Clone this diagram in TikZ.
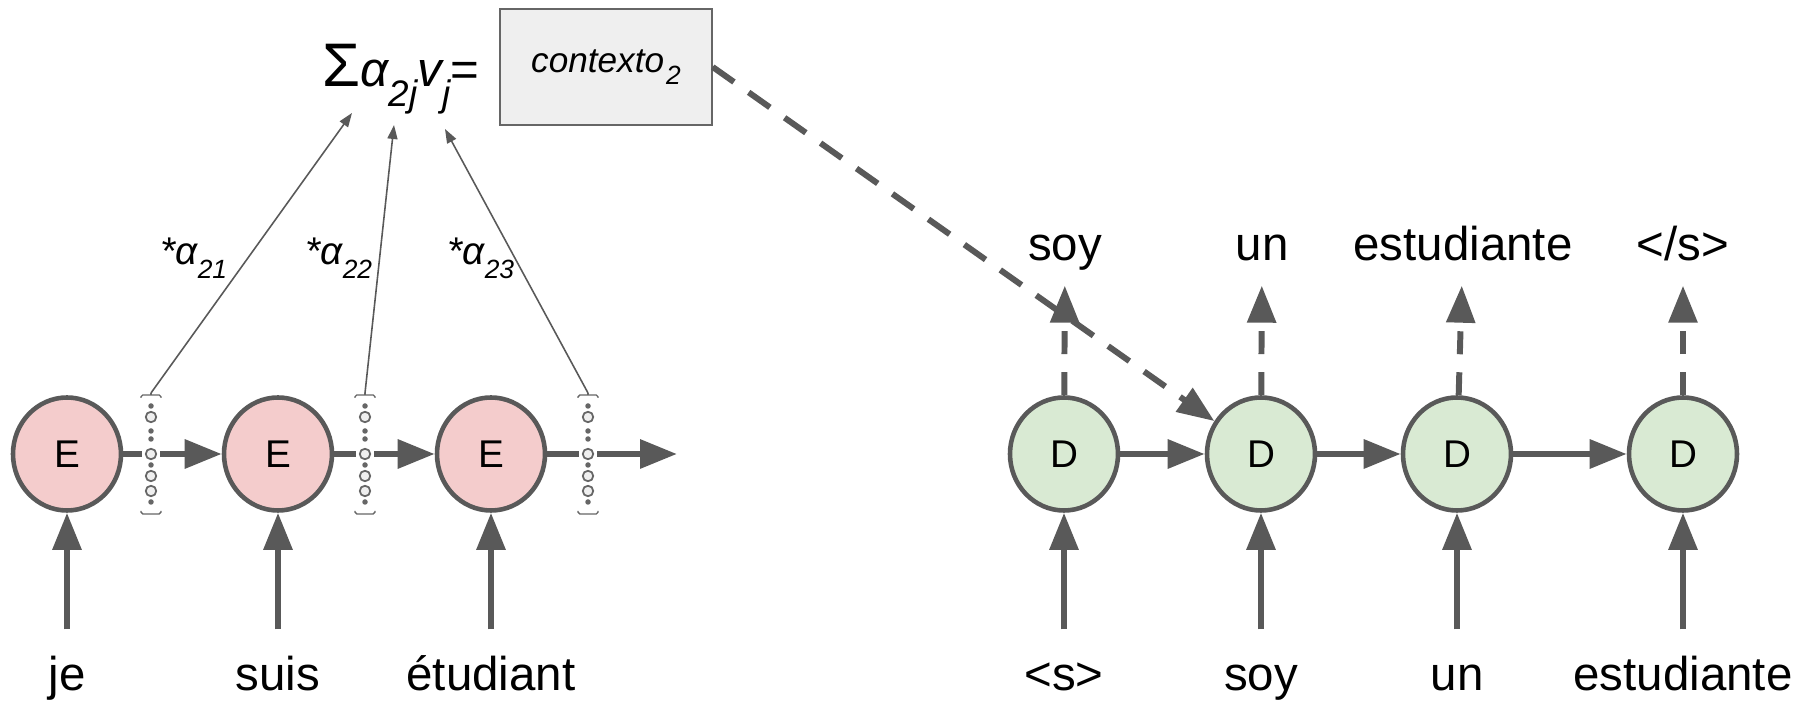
\documentclass[tikz,border=0pt]{standalone}
\usepackage{fontspec}
\setmainfont{Liberation Sans}
\usetikzlibrary{arrows.meta,positioning,calc,shapes.geometric}

\definecolor{edgegray}{HTML}{595959}
\definecolor{encfill}{HTML}{F4CCCC}
\definecolor{decfill}{HTML}{D9EAD3}
\definecolor{boxfill}{HTML}{EFEFEF}
\definecolor{vecgray}{HTML}{666666}

\newcommand{\lowsub}[3]{\raisebox{-#1}{\fontsize{#2}{#2}\selectfont #3}}

\begin{document}
\begin{tikzpicture}[
			cell/.style={ellipse, draw=edgegray, line width=1.3pt, minimum width=1.08cm, minimum height=1.13cm, inner sep=0pt, font=\fontsize{11}{13}\selectfont},
			enc/.style={cell, fill=encfill},
			dec/.style={cell, fill=decfill},
			word/.style={font=\fontsize{13.5}{16}\selectfont, text height=0.47cm, text depth=0.1cm, inner xsep=1pt, inner ysep=0.14cm, anchor=base},
			edge/.style={draw=edgegray, line width=1.8pt},
			arr/.style={edge, -{Triangle[length=3.7mm,width=2.8mm]}},
			inarr/.style={arr, line width=1.7pt},
			outarr/.style={inarr, dash pattern=on 2.3mm off 1.8mm},
			ctxarr/.style={inarr, dash pattern=on 2.6mm off 1.8mm},
			vcirc/.style={circle, draw=vecgray, fill=boxfill, line width=0.5pt, minimum size=0.105cm, inner sep=0pt, outer sep=0.04cm},
			vdot/.style={circle, fill=vecgray, minimum size=0.055cm, inner sep=0pt},
			bracket/.style={draw=vecgray, line width=0.4pt, rounded corners=0.5pt},
			att/.style={draw=edgegray, line width=0.45pt, -{Triangle[length=1.4mm,width=1mm]}},
			attlab/.style={font=\fontsize{11}{13}\selectfont\itshape, inner sep=0pt, anchor=base west}
			]
			\useasboundingbox (0,0) rectangle (18.12,7.07);
			
			% --------------------------------------------------------------------
			% context (top)
			% --------------------------------------------------------------------
			\node[inner sep=0pt, anchor=base west] (sum) at (3.22,6.20) {%
				{\fontsize{17.5}{20}\selectfont Σ}{\fontsize{14}{16}\selectfont\itshape α\lowsub{0.2cm}{10.5}{2j}v\lowsub{0.2cm}{10.5}{j}}{\fontsize{14}{16}\selectfont =}};
			
			\node[draw=vecgray, fill=boxfill, line width=0.4pt, minimum width=2.12cm, minimum height=1.16cm] (ctx) at (6.06,6.40)
				{\fontsize{10}{12}\selectfont\itshape contexto\hspace{0.02cm}\lowsub{0.12cm}{7.5}{2}};
			
			\coordinate (a1) at (3.52,5.94);
			\coordinate (a2) at (3.94,5.82);
			\coordinate (a3) at (4.45,5.78);
			
			% --------------------------------------------------------------------
			% encoder (left)
			% --------------------------------------------------------------------
			\node[enc] (E1) at (0.67,2.53) {E};
			\node[enc] (E2) at (2.78,2.53) {E};
			\node[enc] (E3) at (4.91,2.53) {E};
			
			% hidden state vectors
			\foreach \v/\x in {v1/1.51, v2/3.65, v3/5.88} {
				\foreach \dy in {0.37,-0.22,-0.37}
					\node[vcirc] at (\x,2.53+\dy) {};
				\foreach \dy in {0.48,0.23,0.15,-0.11,-0.48}
					\node[vdot] at (\x,2.53+\dy) {};
				\node[vcirc] (\v) at (\x,2.53) {};
				\draw[bracket] (\x-0.1,3.09) -- (\x-0.1,3.12) -- (\x+0.1,3.12) -- (\x+0.1,3.09);
				\draw[bracket] (\x,3.12) -- (\x,3.14);
				\draw[bracket] (\x-0.1,1.96) -- (\x-0.1,1.93) -- (\x+0.1,1.93) -- (\x+0.1,1.96);
				\coordinate (\v top) at (\x,3.14);
			}
			\coordinate (encend) at (6.77,2.53);
			
			\draw[edge] (E1) -- (v1);
			\draw[arr] (v1) -- (E2);
			\draw[edge] (E2) -- (v2);
			\draw[arr] (v2) -- (E3);
			\draw[edge] (E3) -- (v3);
			\draw[arr] (v3) -- (encend);
			
			% attention weights
			\draw[att] (v1top) -- (a1);
			\draw[att] (v2top) -- (a2);
			\draw[att] (v3top) -- (a3);
			
			\node[attlab] (w21) at (1.60,4.42) {*α\lowsub{0.14cm}{7.5}{21}};
			\node[attlab] (w22) at (3.05,4.42) {*α\lowsub{0.14cm}{7.5}{22}};
			\node[attlab] (w23) at (4.47,4.42) {*α\lowsub{0.14cm}{7.5}{23}};
			
			% source words
			\node[word] (je) at (0.67,0.16) {je};
			\node[word] (suis) at (2.78,0.16) {suis};
			\node[word] (etud) at (4.91,0.16) {étudiant};
			
			\draw[inarr] (je) -- (E1);
			\draw[inarr] (suis) -- (E2);
			\draw[inarr] (etud) -- (E3);
			
			% --------------------------------------------------------------------
			% decoder (right)
			% --------------------------------------------------------------------
			\node[dec] (D1) at (10.64,2.53) {D};
			\node[dec] (D2) at (12.61,2.53) {D};
			\node[dec] (D3) at (14.57,2.53) {D};
			\node[dec] (D4) at (16.83,2.53) {D};
			
			\draw[arr] (D1) -- (D2);
			\draw[arr] (D2) -- (D3);
			\draw[arr] (D3) -- (D4);
			
			% target words in
			\node[word] (in1) at (10.64,0.16) {<s>};
			\node[word] (in2) at (12.61,0.16) {soy};
			\node[word] (in3) at (14.57,0.16) {un};
			\node[word] (in4) at (16.83,0.16) {estudiante};
			
			\draw[inarr] (in1) -- (D1);
			\draw[inarr] (in2) -- (D2);
			\draw[inarr] (in3) -- (D3);
			\draw[inarr] (in4) -- (D4);
			
			% target words out
			\node[word] (out1) at (10.65,4.46) {soy};
			\node[word] (out2) at (12.62,4.46) {un};
			\node[word] (out3) at (14.63,4.46) {estudiante};
			\node[word] (out4) at (16.83,4.46) {</s>};
			
			\draw[outarr] (D1) -- (out1);
			\draw[outarr] (D2) -- (out2);
			\draw[outarr] (D3) -- (out3);
			\draw[outarr] (D4) -- (out4);
			
			% context into decoder
			\draw[ctxarr] (ctx.east) -- (D2);
			
		\end{tikzpicture}
\end{document}
